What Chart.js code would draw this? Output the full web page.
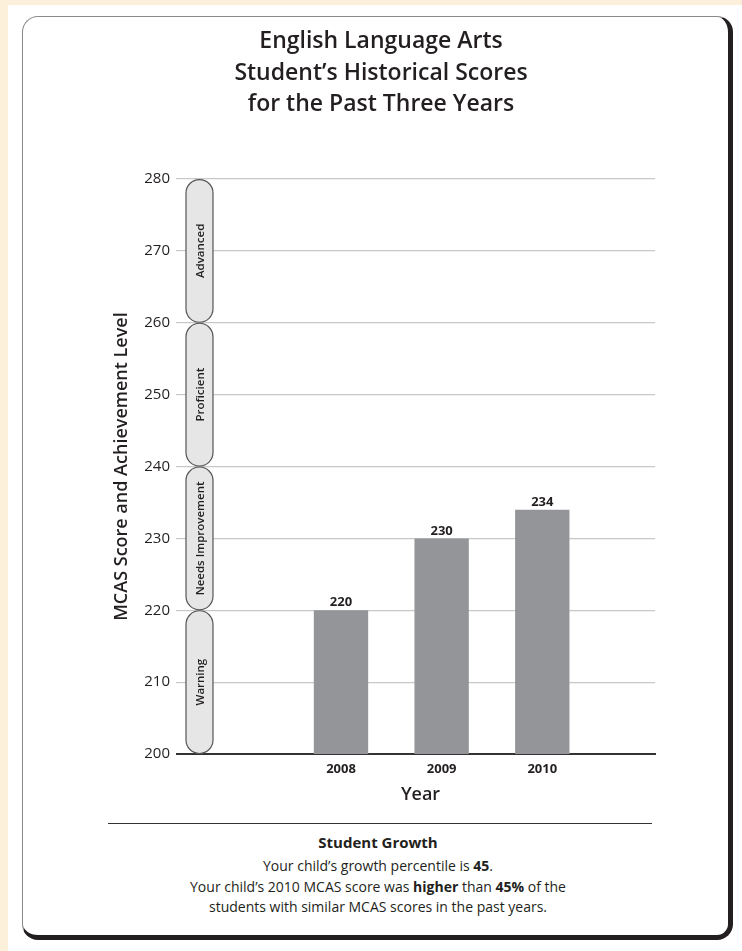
<!DOCTYPE html>
<html>
<head>
<meta charset="utf-8">
<script src="https://cdn.jsdelivr.net/npm/chart.js@4.4.1/dist/chart.umd.min.js"></script>
<style>
  html, body { margin: 0; padding: 0; }
  body { width: 742px; height: 951px; background: #fdf0da; position: relative; overflow: hidden; font-family: "Open Sans", sans-serif; color: #231f20; }
  .sheet { position: absolute; left: 8px; top: 5px; right: 0; bottom: 0; background: #fff; }
  .card { position: absolute; left: 22px; top: 16px; width: 711px; height: 924px; box-sizing: border-box;
          border-left: 1.5px solid #8a8a8a; border-top: 1.5px solid #8a8a8a;
          border-right: 5px solid #231f20; border-bottom: 5px solid #231f20; border-radius: 16px; background: #fff; }
  #chart { position: absolute; left: 0; top: 0; }
  .rule { position: absolute; left: 108px; width: 544px; top: 823px; height: 0; border-top: 1.5px solid #333; }
  .note { position: absolute; left: 78px; width: 600px; text-align: center; font-size: 14px; line-height: 20px; }
  .note b { font-weight: 700; }
  .head { font-size: 15px; font-weight: 700; }
</style>
</head>
<body>
<div class="sheet"></div>
<div class="card"></div>
<canvas id="chart" width="742" height="820"></canvas>
<div class="rule"></div>
<div class="note head" style="top:832px">Student Growth</div>
<div class="note" style="top:856px">Your child’s growth percentile is <b>45</b>.</div>
<div class="note" style="top:877px">Your child’s 2010 MCAS score was <b>higher</b> than <b>45%</b> of the</div>
<div class="note" style="top:897px">students with similar MCAS scores in the past years.</div>

<script>
const titleLines = ['English Language Arts', 'Student’s Historical Scores', 'for the Past Three Years'];
const years = [2008, 2009, 2010];
const scores = [220, 230, 234];
const yTicks = [200, 210, 220, 230, 240, 250, 260, 270, 280];
const levels = ['Warning', 'Needs Improvement', 'Proficient', 'Advanced'];
const levelBounds = [200, 220, 240, 260, 280];

const FONT = '"Open Sans", sans-serif';
const INK = '#231f20';

// --- achievement level pills on the left edge of the plot ---
const levelPills = {
    id: 'levelPills',
    beforeDatasetsDraw(chart) {
        const ctx = chart.ctx;
        const yScale = chart.scales.y;
        const left = chart.chartArea.left;
        const w = 27;
        const r = w / 2;
        levels.forEach((name, i) => {
            const top = yScale.getPixelForValue(levelBounds[i + 1]) + 0.5;
            const bottom = yScale.getPixelForValue(levelBounds[i]) - 0.5;
            ctx.save();
            ctx.beginPath();
            ctx.roundRect(left, top, w, bottom - top, r);
            ctx.fillStyle = '#e6e6e6';
            ctx.fill();
            ctx.lineWidth = 1.2;
            ctx.strokeStyle = '#555';
            ctx.stroke();
            ctx.translate(left + r, (top + bottom) / 2);
            ctx.rotate(-Math.PI / 2);
            ctx.fillStyle = INK;
            ctx.font = '600 11.5px ' + FONT;
            ctx.textAlign = 'center';
            ctx.textBaseline = 'middle';
            ctx.fillText(name, 0, 1);
            ctx.restore();
        });
    }
};

// --- score above each bar ---
const barValues = {
    id: 'barValues',
    afterDatasetsDraw(chart) {
        const ctx = chart.ctx;
        const meta = chart.getDatasetMeta(0);
        ctx.save();
        ctx.font = 'bold 13px ' + FONT;
        ctx.fillStyle = INK;
        ctx.textAlign = 'center';
        ctx.textBaseline = 'bottom';
        meta.data.forEach((bar, i) => {
            ctx.fillText(String(scores[i]), bar.x, bar.y - 1);
        });
        ctx.restore();
    }
};

new Chart(document.getElementById('chart'), {
    type: 'bar',
    data: {
        datasets: [{
            data: years.map((yr, i) => ({ x: yr, y: scores[i] })),
            backgroundColor: '#939598',
            borderWidth: 0,
            categoryPercentage: 1,
            barPercentage: 0.54
        }]
    },
    options: {
        responsive: false,
        animation: false,
        events: [],
        layout: { padding: { left: 107, right: 87, top: 26, bottom: 0 } },
        plugins: {
            legend: { display: false },
            tooltip: { enabled: false },
            title: {
                display: true,
                text: titleLines,
                color: INK,
                font: { family: FONT, size: 23, weight: 600, lineHeight: 1.37 },
                padding: { top: 0, bottom: 58.5 }
            }
        },
        scales: {
            x: {
                type: 'linear',
                offset: false,
                min: 2006.46,
                max: 2011.12,
                afterBuildTicks: (scale) => { scale.ticks = years.map(v => ({ value: v })); },
                afterFit: (scale) => { scale.height = 66; },
                grid: { display: false, drawTicks: false, offset: false },
                border: { display: true, color: '#333', width: 2 },
                ticks: {
                    padding: 7,
                    color: INK,
                    font: { family: FONT, size: 13, weight: 'bold' },
                    callback: (v) => String(v)
                },
                title: {
                    display: true,
                    text: 'Year',
                    color: INK,
                    font: { family: FONT, size: 18, weight: 600 },
                    padding: { top: 0, bottom: 14 }
                }
            },
            y: {
                min: 200,
                max: 280,
                afterBuildTicks: (scale) => { scale.ticks = yTicks.map(v => ({ value: v })); },
                afterFit: (scale) => { scale.width = 79; },
                grid: {
                    color: (c) => c.tick && c.tick.value === 200 ? '#333' : '#c8c8c8',
                    lineWidth: (c) => c.tick && c.tick.value === 200 ? 2 : 1.2,
                    tickLength: 10
                },
                border: { display: false },
                ticks: {
                    padding: 6,
                    color: INK,
                    font: { family: FONT, size: 15 }
                },
                title: {
                    display: true,
                    text: 'MCAS Score and Achievement Level',
                    color: INK,
                    font: { family: FONT, size: 18, weight: 600 },
                    padding: { top: 4, bottom: 4 }
                }
            }
        }
    },
    plugins: [levelPills, barValues]
});
</script>
</body>
</html>
